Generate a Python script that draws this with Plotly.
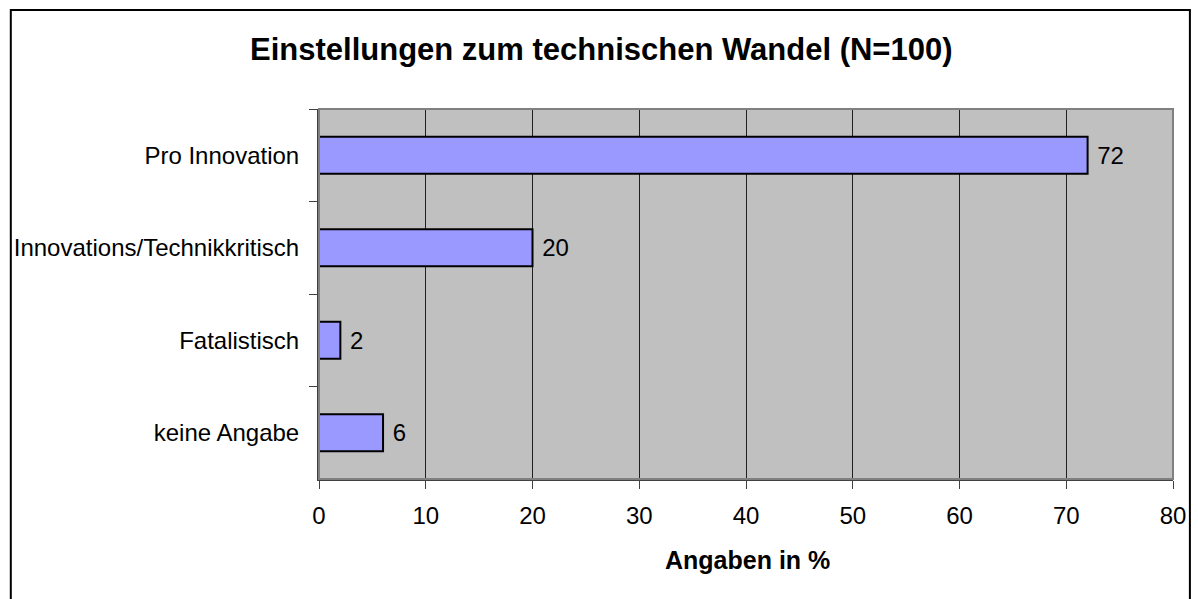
import plotly.graph_objects as go

categories = ["Pro Innovation", "Innovations/Technikkritisch", "Fatalistisch", "keine Angabe"]
values = [72, 20, 2, 6]
x_ticks = [0, 10, 20, 30, 40, 50, 60, 70, 80]
title_text = "Einstellungen zum technischen Wandel (N=100)"
x_title = "Angaben in %"

FONT = "Arial, Liberation Sans, sans-serif"
W, H = 1198, 599
L, R, T, B = 319, 1178, 109, 479

def px(x):
    return (x - L) / (R - L)

def py(y):
    return (B - y) / (B - T)

fig = go.Figure()
fig.add_trace(go.Bar(
    y=categories, x=values, orientation="h",
    width=0.4,
    marker=dict(color="#9999FF", line=dict(color="black", width=2)),
    text=["\u00a0" + str(v) for v in values], textposition="outside",
    textfont=dict(family=FONT, size=24, color="black"),
    cliponaxis=False,
    hoverinfo="skip",
))

fig.update_layout(
    width=W, height=H,
    margin=dict(l=L, r=W - R, t=T, b=H - B, pad=0),
    paper_bgcolor="white", plot_bgcolor="#C0C0C0",
    showlegend=False,
    font=dict(family=FONT, size=24, color="black"),
    xaxis=dict(range=[0, 80], tickvals=x_ticks, ticks="outside", ticklen=8,
               tickcolor="#404040", showgrid=True, gridcolor="#202020", gridwidth=1,
               showline=True, linecolor="#404040", linewidth=2, zeroline=False,
               tickfont=dict(family=FONT, size=24, color="black"), ticklabelstandoff=6,
               fixedrange=True),
    yaxis=dict(categoryorder="array", categoryarray=categories, autorange="reversed",
               ticks="outside", ticklen=8, tickcolor="#404040", tickson="boundaries",
               showline=True, linecolor="#404040", linewidth=2, showgrid=False,
               tickfont=dict(family=FONT, size=24, color="black"), ticklabelstandoff=13,
               fixedrange=True),
    shapes=[
        dict(type="rect", xref="paper", yref="paper", x0=0, x1=1, y0=0, y1=1,
             line=dict(color="#808080", width=2), layer="above"),
        dict(type="rect", xref="paper", yref="paper", x0=px(9), x1=px(1195), y0=py(10), y1=py(650),
             line=dict(color="black", width=2), layer="below"),
    ],
    annotations=[
        dict(text="<b>" + title_text + "</b>", xref="paper", yref="paper", x=px(603), y=py(49),
             xanchor="center", yanchor="middle", showarrow=False,
             font=dict(family=FONT, size=31, color="black")),
        dict(text="<b>" + x_title + "</b>", xref="paper", yref="paper", x=px(750), y=py(560),
             xanchor="center", yanchor="middle", showarrow=False,
             font=dict(family=FONT, size=25, color="black")),
    ],
)

fig.write_html("out.html",
               config={"displayModeBar": False, "staticPlot": True},
               post_script="document.body.style.margin='0';document.body.style.overflow='hidden';")
